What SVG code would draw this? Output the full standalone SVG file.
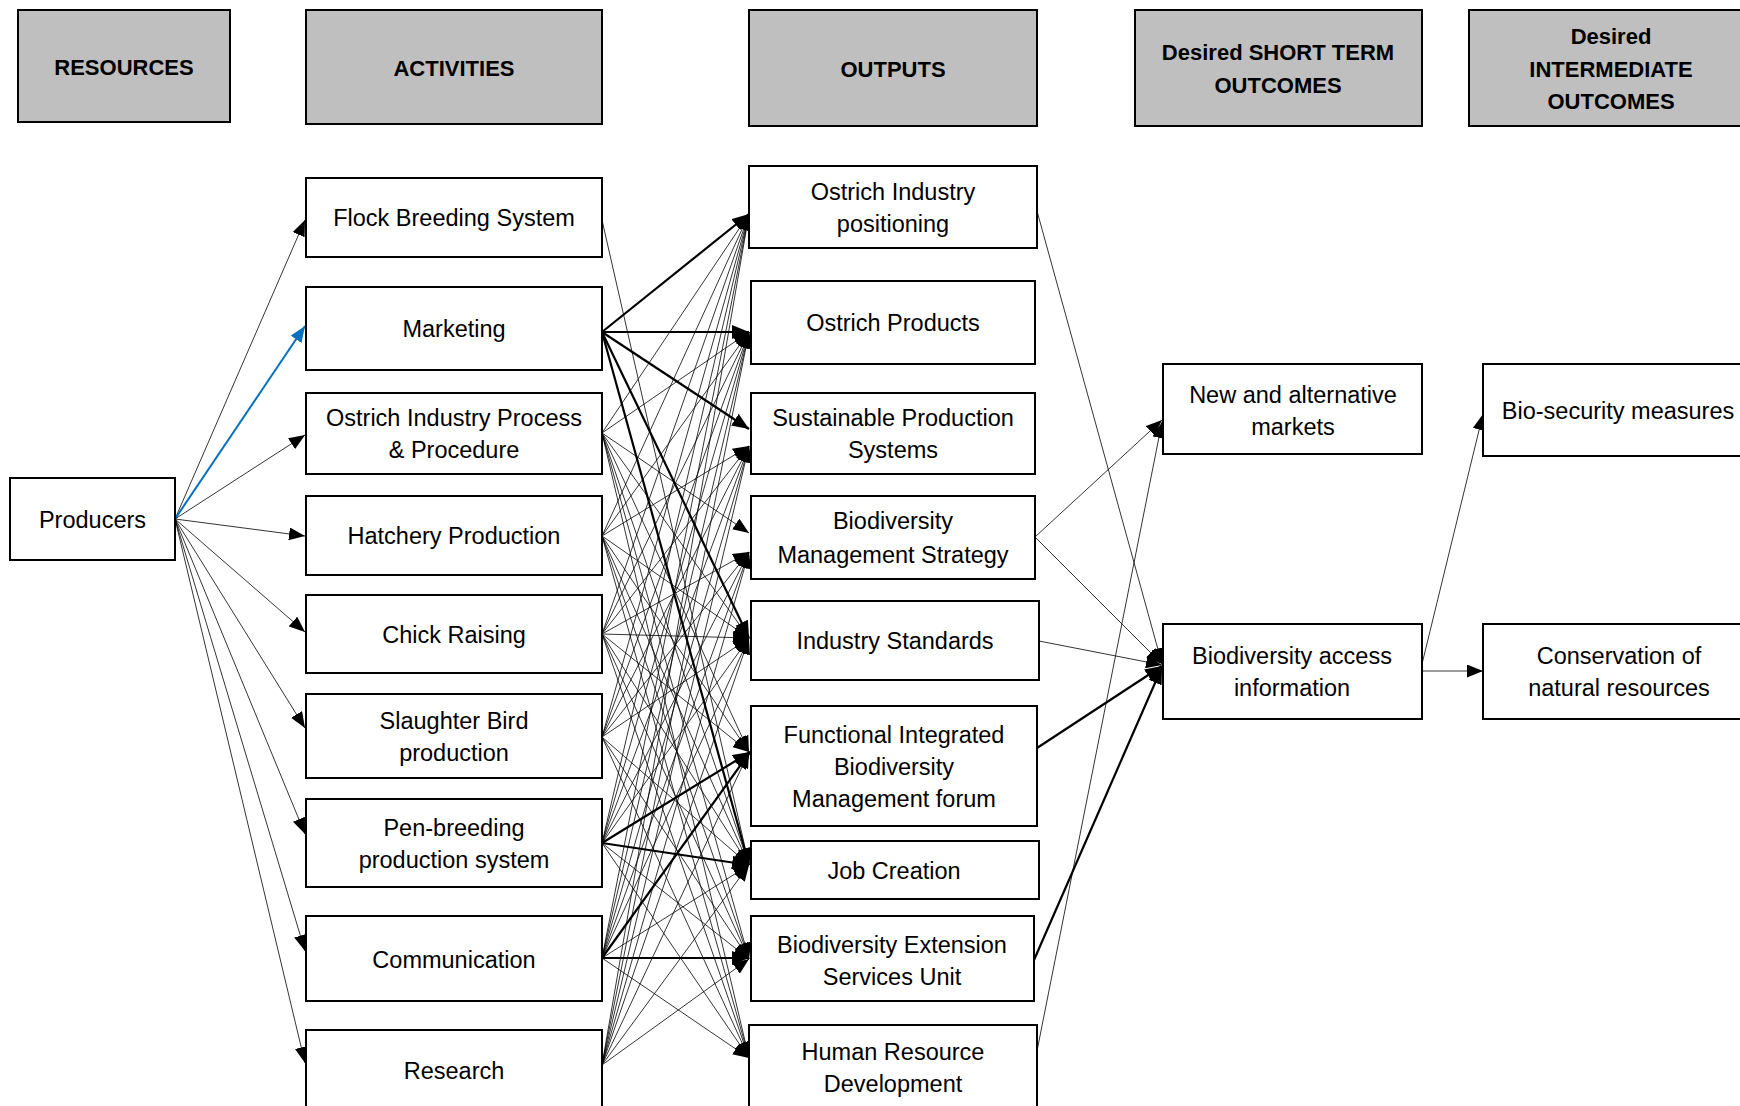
<svg xmlns="http://www.w3.org/2000/svg" width="1740" height="1106" viewBox="0 0 1740 1106">
<style>
.box{fill:#fff;stroke:#000;stroke-width:2}
.hdr{fill:#BFBFBF;stroke:#000;stroke-width:2}
text{font-family:"Liberation Sans",Arial,sans-serif;font-size:23.5px;text-anchor:middle;fill:#000}
.h text{font-weight:bold;font-size:22px}
.t{stroke:#000;stroke-width:0.8;fill:none;marker-end:url(#a)}
.b{stroke:#000;stroke-width:2.2;fill:none;marker-end:url(#ab)}
.bl{stroke:#0070C0;stroke-width:2;fill:none;marker-end:url(#abl)}
</style>
<defs>
<marker id="a" markerUnits="userSpaceOnUse" markerWidth="17" markerHeight="13" refX="16" refY="6.5" orient="auto"><path d="M0,0 L16,6.5 L0,13 z" fill="#000"/></marker>
<marker id="ab" markerUnits="userSpaceOnUse" markerWidth="18" markerHeight="14" refX="17" refY="7" orient="auto"><path d="M0,0 L17,7 L0,14 z" fill="#000"/></marker>
<marker id="abl" markerUnits="userSpaceOnUse" markerWidth="17" markerHeight="13" refX="16" refY="6.5" orient="auto"><path d="M0,0 L16,6.5 L0,13 z" fill="#0070C0"/></marker>
</defs>
<rect width="1740" height="1106" fill="#fff"/>

<g id="connectors">
<!-- Producers to activities -->
<line class="t" x1="175" y1="519" x2="305" y2="220"/>
<line class="bl" x1="175" y1="519" x2="305" y2="326"/>
<line class="t" x1="175" y1="519" x2="305" y2="435"/>
<line class="t" x1="175" y1="519" x2="305" y2="536"/>
<line class="t" x1="175" y1="519" x2="305" y2="632"/>
<line class="t" x1="175" y1="519" x2="305" y2="728"/>
<line class="t" x1="175" y1="519" x2="305" y2="834"/>
<line class="t" x1="175" y1="519" x2="305" y2="951"/>
<line class="t" x1="175" y1="519" x2="305" y2="1063"/>
<!-- Flock -->
<line class="t" x1="602" y1="220" x2="749" y2="865"/>
<!-- Marketing (bold) -->
<line class="b" x1="602" y1="332" x2="749" y2="214"/>
<line class="b" x1="602" y1="332" x2="749" y2="332"/>
<line class="b" x1="602" y1="332" x2="749" y2="429"/>
<line class="b" x1="602" y1="332" x2="749" y2="638"/>
<line class="b" x1="602" y1="332" x2="749" y2="865"/>
<!-- Ostrich Industry Process -->
<line class="t" x1="602" y1="433" x2="749" y2="214"/>
<line class="t" x1="602" y1="433" x2="749" y2="332"/>
<line class="t" x1="602" y1="433" x2="749" y2="533"/>
<line class="t" x1="602" y1="433" x2="749" y2="638"/>
<line class="t" x1="602" y1="433" x2="749" y2="752"/>
<line class="t" x1="602" y1="433" x2="749" y2="865"/>
<line class="t" x1="602" y1="433" x2="749" y2="959"/>
<line class="t" x1="602" y1="433" x2="749" y2="1058"/>
<!-- Hatchery -->
<line class="t" x1="602" y1="536" x2="749" y2="214"/>
<line class="t" x1="602" y1="536" x2="749" y2="332"/>
<line class="t" x1="602" y1="536" x2="749" y2="446"/>
<line class="t" x1="602" y1="536" x2="749" y2="638"/>
<line class="t" x1="602" y1="536" x2="749" y2="752"/>
<line class="t" x1="602" y1="536" x2="749" y2="865"/>
<line class="t" x1="602" y1="536" x2="749" y2="959"/>
<line class="t" x1="602" y1="536" x2="749" y2="1058"/>
<!-- Chick Raising -->
<line class="t" x1="602" y1="634" x2="749" y2="214"/>
<line class="t" x1="602" y1="634" x2="749" y2="332"/>
<line class="t" x1="602" y1="634" x2="749" y2="446"/>
<line class="t" x1="602" y1="634" x2="749" y2="552"/>
<line class="t" x1="602" y1="634" x2="749" y2="638"/>
<line class="t" x1="602" y1="634" x2="749" y2="752"/>
<line class="t" x1="602" y1="634" x2="749" y2="865"/>
<line class="t" x1="602" y1="634" x2="749" y2="959"/>
<line class="t" x1="602" y1="634" x2="749" y2="1058"/>
<!-- Slaughter -->
<line class="t" x1="602" y1="737" x2="749" y2="214"/>
<line class="t" x1="602" y1="737" x2="749" y2="332"/>
<line class="t" x1="602" y1="737" x2="749" y2="446"/>
<line class="t" x1="602" y1="737" x2="749" y2="552"/>
<line class="t" x1="602" y1="737" x2="749" y2="638"/>
<line class="t" x1="602" y1="737" x2="749" y2="865"/>
<line class="t" x1="602" y1="737" x2="749" y2="959"/>
<line class="t" x1="602" y1="737" x2="749" y2="1058"/>
<!-- Pen-breeding -->
<line class="t" x1="602" y1="843" x2="749" y2="214"/>
<line class="t" x1="602" y1="843" x2="749" y2="332"/>
<line class="t" x1="602" y1="843" x2="749" y2="446"/>
<line class="t" x1="602" y1="843" x2="749" y2="552"/>
<line class="t" x1="602" y1="843" x2="749" y2="638"/>
<line class="t" x1="602" y1="843" x2="749" y2="959"/>
<line class="t" x1="602" y1="843" x2="749" y2="1058"/>
<line class="b" x1="602" y1="843" x2="750" y2="752"/>
<line class="b" x1="602" y1="843" x2="749" y2="865"/>
<!-- Communication -->
<line class="t" x1="602" y1="958" x2="749" y2="214"/>
<line class="t" x1="602" y1="958" x2="749" y2="332"/>
<line class="t" x1="602" y1="958" x2="749" y2="446"/>
<line class="t" x1="602" y1="958" x2="749" y2="552"/>
<line class="t" x1="602" y1="958" x2="749" y2="638"/>
<line class="t" x1="602" y1="958" x2="749" y2="865"/>
<line class="t" x1="602" y1="958" x2="749" y2="1058"/>
<line class="b" x1="602" y1="958" x2="750" y2="752"/>
<line class="b" x1="602" y1="958" x2="749" y2="958"/>
<!-- Research -->
<line class="t" x1="602" y1="1065" x2="749" y2="214"/>
<line class="t" x1="602" y1="1065" x2="749" y2="332"/>
<line class="t" x1="602" y1="1065" x2="749" y2="446"/>
<line class="t" x1="602" y1="1065" x2="749" y2="552"/>
<line class="t" x1="602" y1="1065" x2="749" y2="638"/>
<line class="t" x1="602" y1="1065" x2="749" y2="752"/>
<line class="t" x1="602" y1="1065" x2="749" y2="865"/>
<line class="t" x1="602" y1="1065" x2="749" y2="959"/>
<!-- Outputs to short-term outcomes -->
<line class="t" x1="1037" y1="211" x2="1162" y2="664"/>
<line class="t" x1="1035" y1="537" x2="1162" y2="420"/>
<line class="t" x1="1035" y1="537" x2="1162" y2="664"/>
<line class="t" x1="1039" y1="641" x2="1162" y2="665"/>
<line class="b" x1="1037" y1="748" x2="1162" y2="666"/>
<line class="b" x1="1034" y1="960" x2="1162" y2="667"/>
<line class="t" x1="1037" y1="1051" x2="1162" y2="422"/>
<!-- Short-term to intermediate -->
<line class="t" x1="1422" y1="664" x2="1483" y2="414"/>
<line class="t" x1="1422" y1="671" x2="1483" y2="671"/>
</g>

<g id="hdr-resources" class="h"><rect class="hdr" x="18" y="10" width="212" height="112"/><text x="124" y="75">RESOURCES</text></g>
<g id="hdr-activities" class="h"><rect class="hdr" x="306" y="10" width="296" height="114"/><text x="454" y="76">ACTIVITIES</text></g>
<g id="hdr-outputs" class="h"><rect class="hdr" x="749" y="10" width="288" height="116"/><text x="893" y="77">OUTPUTS</text></g>
<g id="hdr-short" class="h"><rect class="hdr" x="1135" y="10" width="287" height="116"/><text x="1278" y="60">Desired SHORT TERM</text><text x="1278" y="93">OUTCOMES</text></g>
<g id="hdr-intermediate" class="h"><rect class="hdr" x="1469" y="10" width="284" height="116"/><text x="1611" y="44">Desired</text><text x="1611" y="77">INTERMEDIATE</text><text x="1611" y="109">OUTCOMES</text></g>

<g id="producers"><rect class="box" x="10" y="478" width="165" height="82"/><text x="92.5" y="528">Producers</text></g>

<g id="flock"><rect class="box" x="306" y="178" width="296" height="79"/><text x="454" y="226">Flock Breeding System</text></g>
<g id="marketing"><rect class="box" x="306" y="287" width="296" height="83"/><text x="454" y="337">Marketing</text></g>
<g id="process"><rect class="box" x="306" y="393" width="296" height="81"/><text x="454" y="426">Ostrich Industry Process</text><text x="454" y="458">&amp; Procedure</text></g>
<g id="hatchery"><rect class="box" x="306" y="496" width="296" height="79"/><text x="454" y="544">Hatchery Production</text></g>
<g id="chick"><rect class="box" x="306" y="595" width="296" height="78"/><text x="454" y="643">Chick Raising</text></g>
<g id="slaughter"><rect class="box" x="306" y="694" width="296" height="84"/><text x="454" y="729">Slaughter Bird</text><text x="454" y="761">production</text></g>
<g id="pen"><rect class="box" x="306" y="799" width="296" height="88"/><text x="454" y="836">Pen-breeding</text><text x="454" y="868">production system</text></g>
<g id="communication"><rect class="box" x="306" y="916" width="296" height="85"/><text x="454" y="968">Communication</text></g>
<g id="research"><rect class="box" x="306" y="1030" width="296" height="100"/><text x="454" y="1079">Research</text></g>

<g id="positioning"><rect class="box" x="749" y="166" width="288" height="82"/><text x="893" y="200">Ostrich Industry</text><text x="893" y="232">positioning</text></g>
<g id="products"><rect class="box" x="751" y="281" width="284" height="83"/><text x="893" y="331">Ostrich Products</text></g>
<g id="sustainable"><rect class="box" x="751" y="393" width="284" height="81"/><text x="893" y="426">Sustainable Production</text><text x="893" y="458">Systems</text></g>
<g id="biomgmt"><rect class="box" x="751" y="496" width="284" height="83"/><text x="893" y="529">Biodiversity</text><text x="893" y="563">Management Strategy</text></g>
<g id="standards"><rect class="box" x="751" y="601" width="288" height="79"/><text x="895" y="649">Industry Standards</text></g>
<g id="functional"><rect class="box" x="751" y="706" width="286" height="120"/><text x="894" y="743">Functional Integrated</text><text x="894" y="775">Biodiversity</text><text x="894" y="807">Management forum</text></g>
<g id="job"><rect class="box" x="751" y="841" width="288" height="58"/><text x="894" y="879">Job Creation</text></g>
<g id="extension"><rect class="box" x="751" y="916" width="283" height="85"/><text x="892" y="953">Biodiversity Extension</text><text x="892" y="985">Services Unit</text></g>
<g id="hr"><rect class="box" x="749" y="1025" width="288" height="100"/><text x="893" y="1060">Human Resource</text><text x="893" y="1092">Development</text></g>

<g id="markets"><rect class="box" x="1163" y="364" width="259" height="90"/><text x="1293" y="403">New and alternative</text><text x="1293" y="435">markets</text></g>
<g id="access"><rect class="box" x="1163" y="624" width="259" height="95"/><text x="1292" y="664">Biodiversity access</text><text x="1292" y="696">information</text></g>
<g id="biosecurity"><rect class="box" x="1483" y="364" width="280" height="92"/><text x="1618" y="419">Bio-security measures</text></g>
<g id="conservation"><rect class="box" x="1483" y="624" width="280" height="95"/><text x="1619" y="664">Conservation of</text><text x="1619" y="696">natural resources</text></g>
</svg>
